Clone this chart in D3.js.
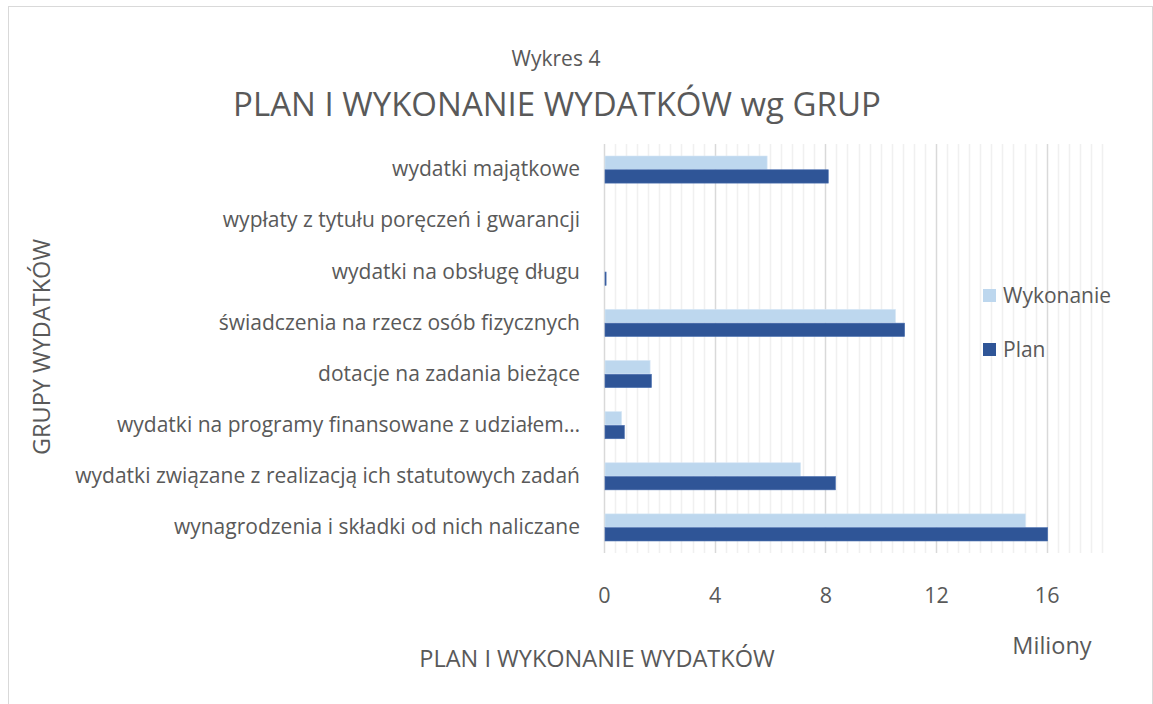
<!DOCTYPE html>
<html>
<head>
<meta charset="utf-8">
<script src="https://cdn.jsdelivr.net/npm/d3@7"></script>
<style>
    body { margin: 0; background: #fff; }
    svg text { font-family: "Open Sans", "Noto Sans", sans-serif; fill: #595959; }
</style>
</head>
<body>
<div id="chart"></div>
<script>
// categories, top to bottom as shown
var categories = [
    "wydatki majątkowe",
    "wypłaty z tytułu poręczeń i gwarancji",
    "wydatki na obsługę długu",
    "świadczenia na rzecz osób fizycznych",
    "dotacje na zadania bieżące",
    "wydatki na programy finansowane z udziałem…",
    "wydatki związane z realizacją ich statutowych zadań",
    "wynagrodzenia i składki od nich naliczane"
];
// values in millions
var wykonanie = [5.86, 0, 0, 10.5, 1.63, 0.6, 7.07, 15.2];
var plan = [8.07, 0, 0.04, 10.83, 1.68, 0.7, 8.33, 16.0];
var seriesNames = ["Wykonanie", "Plan"];
var seriesColors = ["#bdd7ee", "#2f5597"];
var xTicks = [0, 4, 8, 12, 16];

var width = 1153, height = 704;
var margin = {left: 604, right: 51, top: 144, bottom: 151};

var svg = d3.select("#chart").append("svg")
    .attr("width", width)
    .attr("height", height);

// chart border
svg.append("rect")
    .attr("x", 8.5).attr("y", 6.5)
    .attr("width", 1144).attr("height", 720)
    .attr("fill", "none")
    .attr("stroke", "#d9d9d9");

var x = d3.scaleLinear()
    .domain([0, 18])
    .range([margin.left, width - margin.right]);

var y = d3.scaleBand()
    .domain(categories)
    .range([margin.top, height - margin.bottom])
    .paddingInner(0.47)
    .paddingOuter(0.235);

var ySub = d3.scaleBand()
    .domain(seriesNames)
    .range([0, y.bandwidth()])
    .paddingInner(0.03);

var gridTop = margin.top, gridBottom = height - margin.bottom;

// minor gridlines
var minor = d3.range(0, 18.001, 0.4).filter(function (v) { return Math.abs(v / 4 - Math.round(v / 4)) > 0.01; });
svg.append("g").selectAll("line")
    .data(minor)
    .enter().append("line")
    .attr("x1", function (d) { return Math.round(x(d)) + 0.5; })
    .attr("x2", function (d) { return Math.round(x(d)) + 0.5; })
    .attr("y1", gridTop).attr("y2", gridBottom)
    .attr("stroke", "#f0f0f0")
    .attr("stroke-width", 1.5);

// major gridlines
svg.append("g").selectAll("line")
    .data(xTicks)
    .enter().append("line")
    .attr("x1", function (d) { return Math.round(x(d)) + 0.5; })
    .attr("x2", function (d) { return Math.round(x(d)) + 0.5; })
    .attr("y1", gridTop).attr("y2", gridBottom)
    .attr("stroke", "#d9d9d9")
    .attr("stroke-width", 1.5);

// bars
var rows = categories.map(function (c, i) {
    return {cat: c, vals: [wykonanie[i], plan[i]]};
});
var groups = svg.append("g").selectAll("g")
    .data(rows)
    .enter().append("g")
    .attr("transform", function (d) { return "translate(0," + y(d.cat) + ")"; });

groups.selectAll("rect")
    .data(function (d) { return d.vals.map(function (v, j) { return {name: seriesNames[j], v: v, j: j}; }); })
    .enter().append("rect")
    .attr("x", x(0) + 1)
    .attr("y", function (d) { return ySub(d.name); })
    .attr("width", function (d) { return Math.max(0, x(d.v) - x(0)); })
    .attr("height", ySub.bandwidth())
    .attr("fill", function (d) { return seriesColors[d.j]; })
    .attr("stroke", function (d) { return d.v > 0 ? (d.j === 0 ? "#d6e6f5" : "#4a6fb0") : "none"; })
    .attr("stroke-width", 0.6);

// x axis labels
var xAxis = d3.axisBottom(x).tickValues(xTicks).tickSize(0).tickPadding(0);
var gx = svg.append("g")
    .attr("transform", "translate(0," + (gridBottom + 42) + ")")
    .call(xAxis);
gx.select(".domain").remove();
gx.selectAll("text")
    .attr("font-size", 21.5)
    .attr("dy", "0.35em")
    .style("fill", "#595959");

// y axis labels
var yAxis = d3.axisLeft(y).tickSize(0).tickPadding(24);
var gy = svg.append("g")
    .attr("transform", "translate(" + margin.left + ",0)")
    .call(yAxis);
gy.select(".domain").remove();
gy.selectAll("text")
    .attr("font-size", 21)
    .style("fill", "#595959");

// titles
svg.append("text")
    .attr("x", 556).attr("y", 66)
    .attr("text-anchor", "middle")
    .attr("font-size", 21)
    .text("Wykres 4");
svg.append("text")
    .attr("x", 557).attr("y", 116)
    .attr("text-anchor", "middle")
    .attr("font-size", 33)
    .text("PLAN I WYKONANIE WYDATKÓW wg GRUP");

svg.append("text")
    .attr("transform", "translate(50,347) rotate(-90)")
    .attr("text-anchor", "middle")
    .attr("font-size", 23.5)
    .text("GRUPY WYDATKÓW");

svg.append("text")
    .attr("x", 597).attr("y", 667)
    .attr("text-anchor", "middle")
    .attr("font-size", 23.5)
    .text("PLAN I WYKONANIE WYDATKÓW");

svg.append("text")
    .attr("x", 1052).attr("y", 654)
    .attr("text-anchor", "middle")
    .attr("font-size", 23.5)
    .text("Miliony");

// legend
var legend = svg.append("g").selectAll("g")
    .data(seriesNames)
    .enter().append("g")
    .attr("transform", function (d, i) { return "translate(983," + (289 + i * 54) + ")"; });
legend.append("rect")
    .attr("width", 13).attr("height", 13)
    .attr("fill", function (d, i) { return seriesColors[i]; });
legend.append("text")
    .attr("x", 20).attr("y", 6.5)
    .attr("dy", "0.35em")
    .attr("font-size", 21)
    .text(function (d) { return d; });
</script>
</body>
</html>
